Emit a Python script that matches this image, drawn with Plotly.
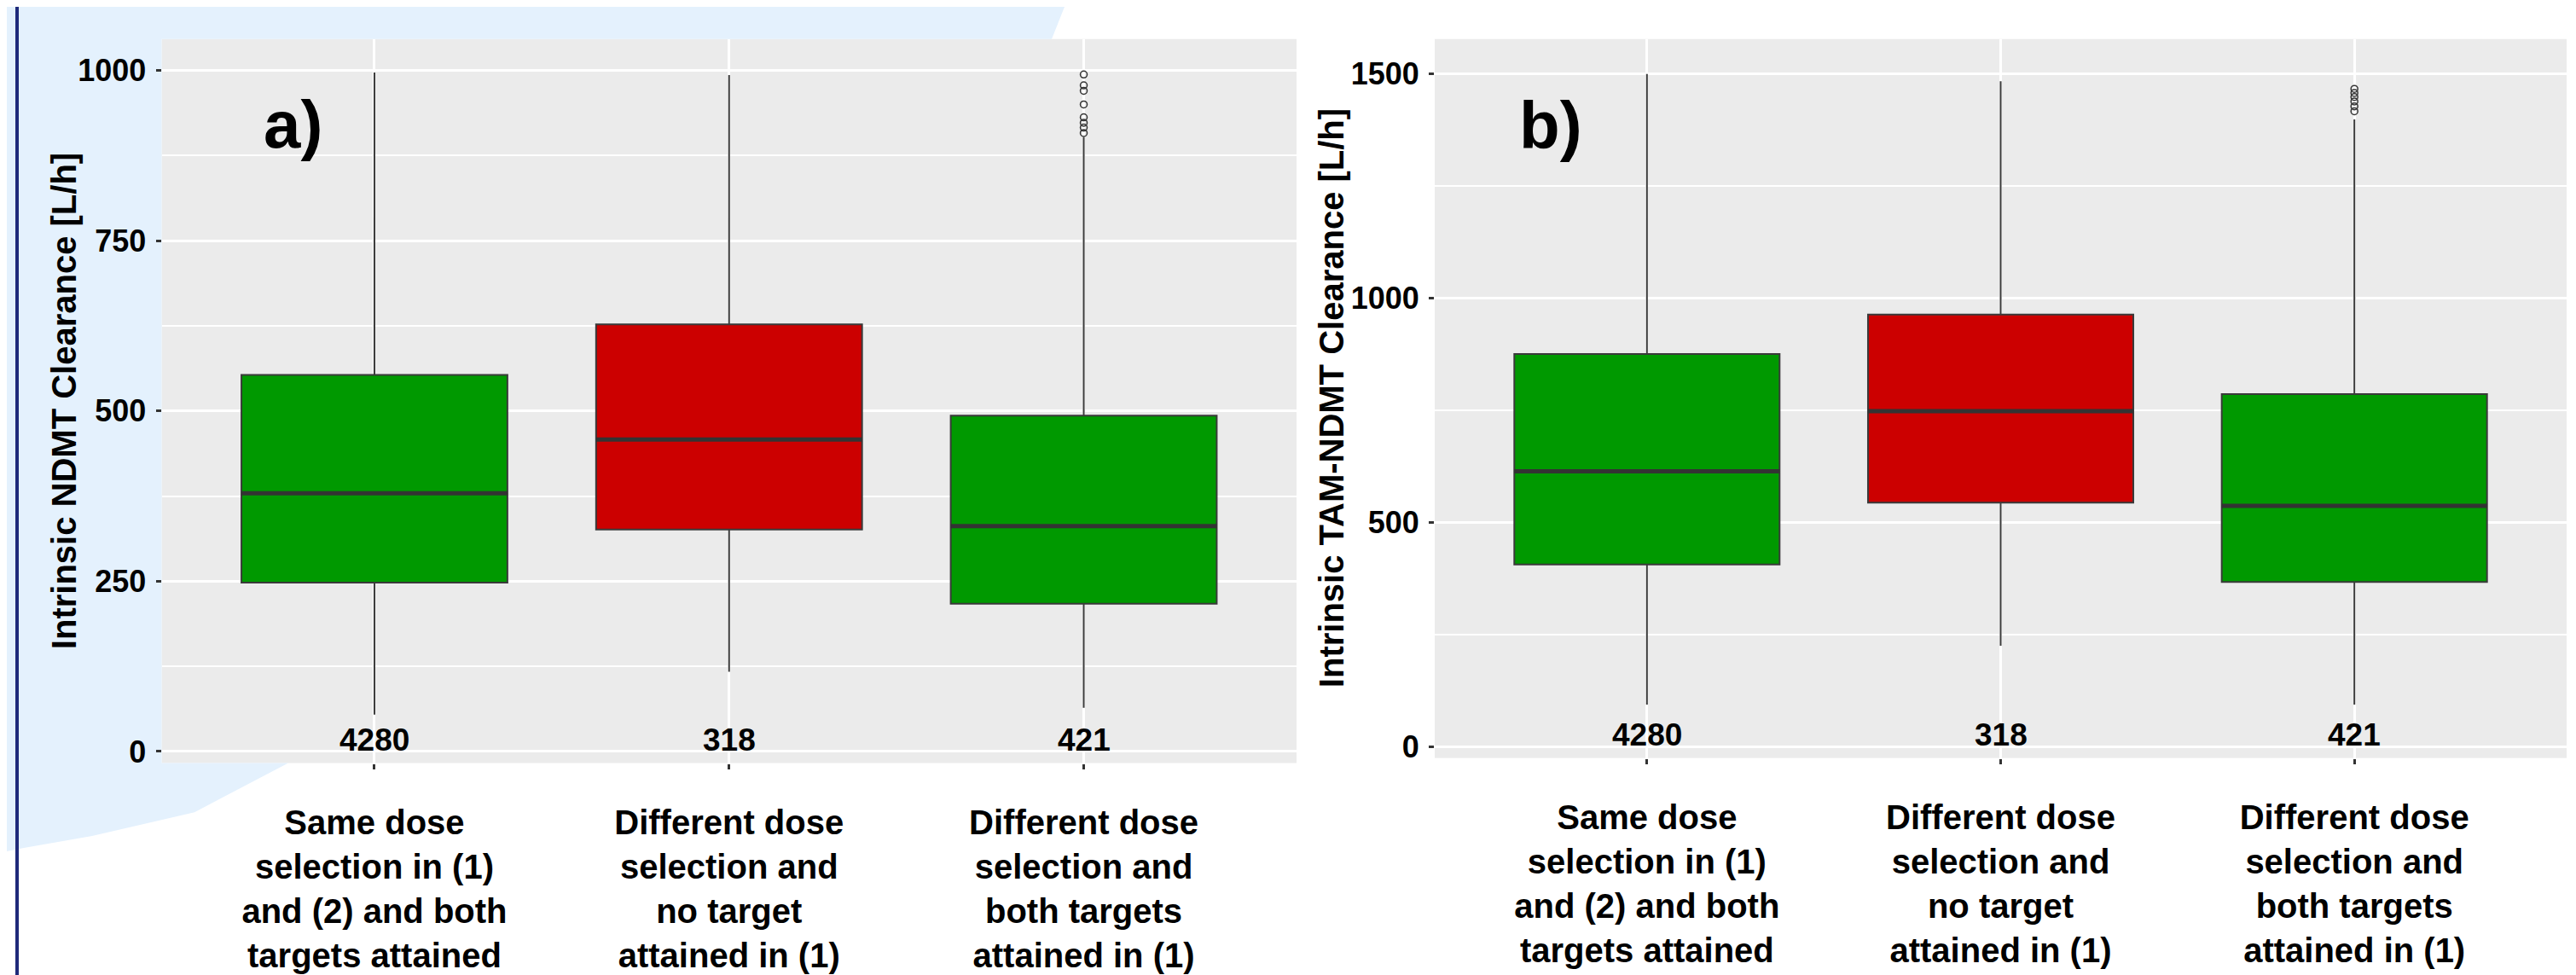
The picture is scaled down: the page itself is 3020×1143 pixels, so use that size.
import plotly.graph_objects as go

# ---------------- data ----------------
positions = [1, 2, 3]
category_labels = [
    "Same dose<br>selection in (1)<br>and (2) and both<br>targets attained",
    "Different dose<br>selection and<br>no target<br>attained in (1)",
    "Different dose<br>selection and<br>both targets<br>attained in (1)",
]
counts = ["4280", "318", "421"]
box_colors = ["#009900", "#CC0000", "#009900"]

# panel a: Intrinsic NDMT clearance
a_q1 = [248, 326, 217]
a_median = [379, 458, 331]
a_q3 = [553, 627, 493]
a_lower = [54, 117, 64]
a_upper = [997, 993, 902]
a_outliers_box3 = [994, 978, 970, 950, 931, 923, 916, 908]
a_ticks = [0, 250, 500, 750, 1000]
a_minor = [125, 375, 625, 875]

# panel b: Intrinsic TAM-NDMT clearance
b_q1 = [406, 544, 367]
b_median = [614, 748, 537]
b_q3 = [875, 963, 786]
b_lower = [94, 225, 94]
b_upper = [1499, 1483, 1398]
b_outliers_box3 = [1466, 1457, 1448, 1438, 1427, 1416]
b_ticks = [0, 500, 1000, 1500]
b_minor = [250, 750, 1250]

# ---------------- layout geometry ----------------
W, H = 3020, 1143
BOX_W = 0.75
FONT = "Liberation Sans, Arial, sans-serif"
NARROW = "Liberation Sans Narrow, Arial Narrow, Liberation Sans, sans-serif"


def px(x):
    return x / W


def py(y):
    return 1 - y / H


xa_dom = [px(181.5), px(1512)]
xb_dom = [px(1674), px(3001)]
ya_dom = [py(892), py(38)]
yb_dom = [py(886), py(38)]

fig = go.Figure()


def add_panel(xref, yref, q1, med, q3, lo, up, outl):
    for i, p in enumerate(positions):
        fig.add_trace(go.Box(
            x=[p], q1=[q1[i]], median=[med[i]], q3=[q3[i]],
            lowerfence=[lo[i]], upperfence=[up[i]],
            width=BOX_W, whiskerwidth=0, boxpoints=False,
            fillcolor=box_colors[i], line=dict(color="#3a3a3a", width=2),
            xaxis=xref, yaxis=yref, hoverinfo="skip", showlegend=False,
        ))
        fig.add_trace(go.Scatter(
            x=[p - BOX_W / 2, p + BOX_W / 2], y=[med[i], med[i]],
            mode="lines", line=dict(color="#333333", width=5),
            xaxis=xref, yaxis=yref, hoverinfo="skip", showlegend=False,
        ))
    fig.add_trace(go.Scatter(
        x=[positions[2]] * len(outl), y=outl, mode="markers",
        marker=dict(symbol="circle-open", size=8, color="#333333",
                    line=dict(width=1.5, color="#333333")),
        xaxis=xref, yaxis=yref, hoverinfo="skip", showlegend=False,
    ))


add_panel("x", "y", a_q1, a_median, a_q3, a_lower, a_upper, a_outliers_box3)
add_panel("x2", "y2", b_q1, b_median, b_q3, b_lower, b_upper, b_outliers_box3)

xaxis_common = dict(
    range=[0.4, 3.6], tickmode="array", tickvals=positions, ticktext=category_labels,
    showgrid=True, gridcolor="white", gridwidth=3, zeroline=False,
    ticks="outside", ticklen=6, tickwidth=3, tickcolor="#333333",
    tickfont=dict(family=FONT, size=40, color="black", weight="bold"),
    ticklabelstandoff=28, showline=False, fixedrange=True,
)
yaxis_common = dict(
    showgrid=True, gridcolor="white", gridwidth=3, zeroline=False,
    ticks="outside", ticklen=6, tickwidth=3, tickcolor="#333333",
    tickfont=dict(family=NARROW, size=36, color="black", weight="bold"),
    showline=False, fixedrange=True, ticklabelstandoff=4,
)

fig.update_layout(
    width=W, height=H, margin=dict(l=0, r=0, t=0, b=0),
    paper_bgcolor="white", plot_bgcolor="#EBEBEB", showlegend=False,
    boxmode="overlay",
    xaxis=dict(domain=xa_dom, anchor="y", **xaxis_common),
    xaxis2=dict(domain=xb_dom, anchor="y2", **xaxis_common),
    yaxis=dict(domain=ya_dom, anchor="x", range=[-17, 1046], tickvals=a_ticks,
               minor=dict(tickvals=a_minor, showgrid=True, gridcolor="white", gridwidth=1.5, ticks=""),
               **yaxis_common),
    yaxis2=dict(domain=yb_dom, anchor="x2", range=[-25, 1577], tickvals=b_ticks,
                minor=dict(tickvals=b_minor, showgrid=True, gridcolor="white", gridwidth=1.5, ticks=""),
                **yaxis_common),
)

annotations = []
for xr, yr in [("x", "y"), ("x2", "y2")]:
    for i, p in enumerate(positions):
        annotations.append(dict(
            x=p, y=0, xref=xr, yref=yr, text=counts[i], showarrow=False,
            xanchor="center", yanchor="bottom", yshift=-9,
            font=dict(family=FONT, size=37, color="black", weight="bold"),
        ))

annotations.append(dict(x=0.77, y=920, xref="x", yref="y", text="a)", showarrow=False,
                        xanchor="center", yanchor="middle",
                        font=dict(family=FONT, size=78, color="black", weight="bold")))
annotations.append(dict(x=0.728, y=1385, xref="x2", yref="y2", text="b)", showarrow=False,
                        xanchor="center", yanchor="middle",
                        font=dict(family=FONT, size=78, color="black", weight="bold")))

annotations.append(dict(x=px(67), y=(ya_dom[0] + ya_dom[1]) / 2, xref="paper", yref="paper",
                        text="Intrinsic NDMT Clearance [L/h]", textangle=-90, showarrow=False,
                        xanchor="center", yanchor="middle",
                        font=dict(family=FONT, size=40, color="black", weight="bold")))
annotations.append(dict(x=px(1553), y=(yb_dom[0] + yb_dom[1]) / 2, xref="paper", yref="paper",
                        text="Intrinsic TAM-NDMT Clearance [L/h]", textangle=-90, showarrow=False,
                        xanchor="center", yanchor="middle",
                        font=dict(family=FONT, size=40, color="black", weight="bold")))
fig.update_layout(annotations=annotations)

# decorative light-blue background wedge (outside the panel) and left border line
wedge = [(0, 0), (1240, 0), (1225, 38), (181.5, 38), (181.5, 892), (330, 892),
         (220, 950), (100, 978), (20, 992), (0, 996)]
path = "M " + " L ".join(f"{px(x):.5f},{py(y):.5f}" for x, y in wedge) + " Z"
fig.add_shape(type="path", path=path, xref="paper", yref="paper",
              fillcolor="#E4F1FD", line=dict(width=0), layer="below")
fig.add_shape(type="line", x0=px(12), x1=px(12), y0=0, y1=1, xref="paper", yref="paper",
              line=dict(color="#1F2A7A", width=4), layer="above")
fig.add_shape(type="line", x0=px(3017), x1=px(3017), y0=0, y1=1, xref="paper", yref="paper",
              line=dict(color="#DDDDDD", width=2), layer="above")

fig.write_html("out.html")
